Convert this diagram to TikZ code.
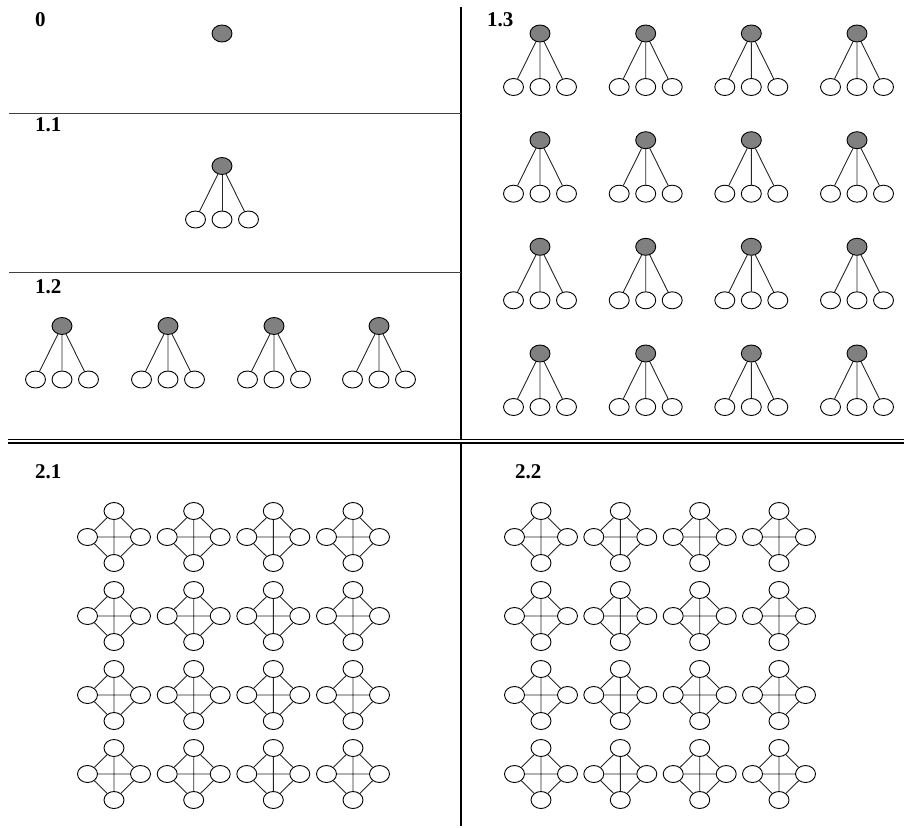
\documentclass[tikz,border=0pt]{standalone}
\usepackage{fontspec}
\setmainfont{Liberation Serif}
\usepackage{tikz}
\usetikzlibrary{positioning,shapes.geometric}

\begin{document}
\begin{tikzpicture}[
        x=1pt, y=-1pt,
        node distance=53.5pt and 26.5pt, on grid,
        root/.style={ellipse, draw=black, fill=gray, line width=0.9pt, minimum width=20pt, minimum height=17pt, inner sep=0pt},
        leaf/.style={ellipse, draw=black, fill=white, line width=0.9pt, minimum width=20pt, minimum height=17pt, inner sep=0pt},
        edge/.style={line width=0.9pt, black!85},
        frame/.style={line width=1.3pt},
        tag/.style={anchor=base west, inner sep=0pt, font=\fontsize{21}{24}\selectfont\bfseries}
    ]
        \useasboundingbox (0,0) rectangle (904,827);

        % panel lines
        \draw[frame] (461,7) -- (461,826);
        \draw[frame, black!75, line width=1pt] (9,113) -- (461,113);
        \draw[frame, black!75, line width=1pt] (9,272) -- (461,272);
        \draw[line width=1.2pt, double, double distance=2.6pt] (8,441) -- (904,441);

        % labels
        \node[tag] (t0) at (35,27) {0};
        \node[tag] (t11) at (35,131) {1.1};
        \node[tag] (t12) at (35,293) {1.2};
        \node[tag] (t13) at (487,27) {1.3};
        \node[tag] (t21) at (35,478) {2.1};
        \node[tag] (t22) at (515,478) {2.2};

        % 0
        \node[root] (r0) at (222,33.5) {};

        % 1.1
        \node[root] (r11) at (222,166) {};
        \node[leaf, below=of r11] (m11) {};
        \node[leaf, left=of m11] (a11) {};
        \node[leaf, right=of m11] (b11) {};
        \foreach \c in {a11,m11,b11}
            \draw[edge] (r11) -- (\c);

        % 1.2
        \foreach \i/\x in {1/62,2/168,3/274,4/379} {
            \node[root] (r12-\i) at (\x,326) {};
            \node[leaf, below=of r12-\i] (m12-\i) {};
            \node[leaf, left=of m12-\i] (a12-\i) {};
            \node[leaf, right=of m12-\i] (b12-\i) {};
            \draw[edge] (r12-\i) -- (a12-\i) (r12-\i) -- (m12-\i) (r12-\i) -- (b12-\i);
        }

        % 1.3
        \foreach \i/\x in {1/540,2/645.7,3/751.3,4/857}
        \foreach \j/\y in {1/33.5,2/140.2,3/246.8,4/353.5} {
            \node[root] (r13-\i-\j) at (\x,\y) {};
            \node[leaf, below=of r13-\i-\j] (m13-\i-\j) {};
            \node[leaf, left=of m13-\i-\j] (a13-\i-\j) {};
            \node[leaf, right=of m13-\i-\j] (b13-\i-\j) {};
            \draw[edge] (r13-\i-\j) -- (a13-\i-\j) (r13-\i-\j) -- (m13-\i-\j) (r13-\i-\j) -- (b13-\i-\j);
        }

        % 2.1 and 2.2
        \foreach \p/\x in {1/114,2/193.7,3/273.3,4/353,5/541,6/620.3,7/699.7,8/779}
        \foreach \j/\y in {1/537,2/616,3/695,4/774} {
            \node[leaf] (kt-\p-\j) at (\x,\y-26) {};
            \node[leaf] (kb-\p-\j) at (\x,\y+26) {};
            \node[leaf] (kl-\p-\j) at (\x-26.5,\y) {};
            \node[leaf] (kr-\p-\j) at (\x+26.5,\y) {};
            \draw[edge] (kt-\p-\j) -- (kl-\p-\j) (kt-\p-\j) -- (kr-\p-\j)
                (kb-\p-\j) -- (kl-\p-\j) (kb-\p-\j) -- (kr-\p-\j)
                (kt-\p-\j) -- (kb-\p-\j) (kl-\p-\j) -- (kr-\p-\j);
        }
    \end{tikzpicture}
\end{document}
